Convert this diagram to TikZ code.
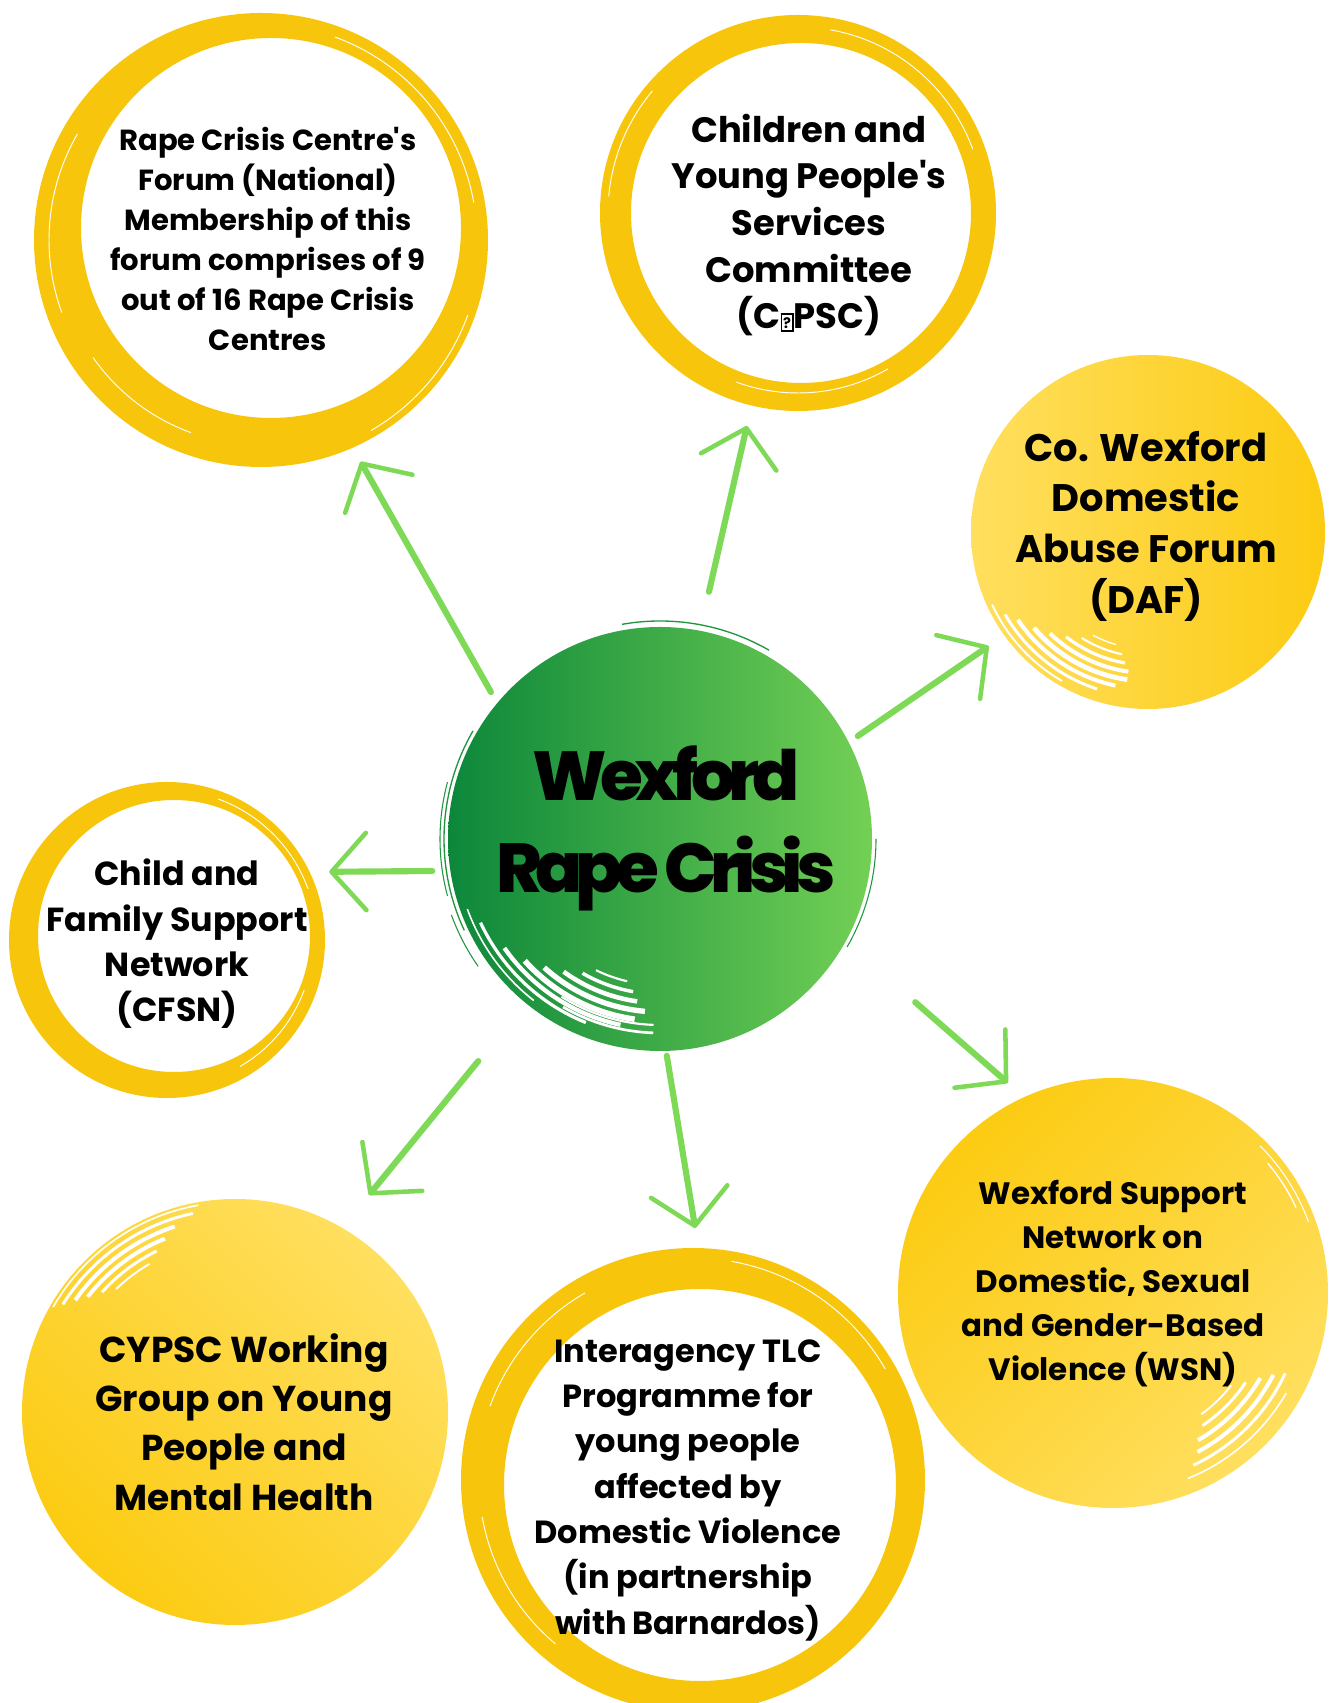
\documentclass[tikz,border=0pt]{standalone}
\usepackage{fontspec}
\setmainfont{Poppins}
\IfFontExistsTF{Poppins ExtraBold}
  {\newfontfamily\hubfont{Poppins ExtraBold}[LetterSpace=-10]}
  {\newfontfamily\hubfont{Poppins}[LetterSpace=-10,UprightFont=* Bold]}
\usetikzlibrary{arrows.meta,calc}

\definecolor{ringyellow}{RGB}{247,198,12}
\definecolor{discdeep}{RGB}{252,203,18}
\definecolor{disclight}{RGB}{255,223,95}
\definecolor{hubdark}{RGB}{12,135,58}
\definecolor{hublight}{RGB}{115,208,85}
\definecolor{arrowgreen}{RGB}{126,217,87}

% a font-less glyph box, as printed in the committee's acronym
\newcommand\nofont{{\setlength\fboxsep{0.8pt}\setlength\fboxrule{1.2pt}%
  \fbox{\fontsize{11}{11}\selectfont\rule{0pt}{9.5pt}?}}}
\newcommand\apos{\textquotesingle}

\tikzset{
  label text/.style={align=center, text=black, inner sep=0pt},
  arr/.style={draw=arrowgreen, line width=4.6pt, line cap=round,
    -{Straight Barb[round,length=26pt,width=58pt,line width=3.4pt]}},
  streak/.style={draw=white},
}

\begin{document}
\begin{tikzpicture}[x=0.75pt,y=0.75pt]
\useasboundingbox (0,0) rectangle (1334,1703);
\fill[white] (0,0) rectangle (1334,1703);
\clip (0,0) rectangle (1334,1703);

% centres of the eight brush circles
\coordinate (hub)  at (660,864);
\coordinate (rcc)  at (261,1463);
\coordinate (cyp)  at (798,1490);
\coordinate (daf)  at (1148,1171);
\coordinate (cfsn) at (167,763);
\coordinate (wg)   at (235,291);
\coordinate (tlc)  at (693,223);
\coordinate (wsn)  at (1113,410);

% ---- open rings (outer circle minus shifted inner circle) ----
\fill[ringyellow, even odd rule] (rcc) circle[radius=227] ($(rcc)+(10,12)$) circle[radius=190];
\fill[ringyellow, even odd rule] (cyp) circle[radius=198] ($(cyp)+(3,0)$) circle[radius=170];
\fill[ringyellow, even odd rule] (cfsn) circle[radius=158] ($(cfsn)+(7,4)$) circle[radius=136];
\fill[ringyellow, even odd rule] (tlc) circle[radius=232] ($(tlc)+(7,-5)$) circle[radius=196];

% fine dry-brush hairlines inside the rings
\foreach \c/\r/\a/\b in {rcc/216/10/70, rcc/220/300/340, rcc/212/150/200, rcc/205/215/250,
    cyp/186/20/80, cyp/180/250/300, cyp/190/140/175,
    cfsn/150/20/70, cfsn/146/300/340,
    tlc/222/30/80, tlc/216/120/160, tlc/214/190/230}
  \draw[white, line width=0.7pt] ($(\c)+(\a:\r)$) arc[start angle=\a, end angle=\b, radius=\r];

% ---- filled discs ----
\shade[left color=disclight, right color=discdeep] (daf) circle[radius=177];
\shade[top color=disclight, bottom color=discdeep, shading angle=-45] (wg) circle[radius=213];
\shade[top color=discdeep, bottom color=disclight, shading angle=45] (wsn) circle[radius=215];

% dry-brush streaks on the discs
\foreach \r/\a/\b/\w in {172/205/240/1.4, 165/210/252/2.2, 157/214/258/3,
    149/220/262/3.6, 141/226/262/3, 133/232/260/2.4, 125/238/258/1.6, 117/242/254/1}
  \draw[streak, line width=\w pt] ($(daf)+(\a:\r)$) arc[start angle=\a, end angle=\b, radius=\r];
\foreach \r/\a/\b/\w in {210/100/150/1.2, 203/102/148/2.2, 195/108/145/3,
    187/112/142/3, 179/116/138/2.2, 171/120/134/1.4}
  \draw[streak, line width=\w pt] ($(wg)+(\a:\r)$) arc[start angle=\a, end angle=\b, radius=\r];
\foreach \r/\a/\b/\w in {200/292/330/1.2, 190/295/335/2.2, 180/298/333/3,
    170/300/330/3, 160/304/326/2.2, 150/306/322/1.4, 208/20/45/0.8, 202/25/40/1}
  \draw[streak, line width=\w pt] ($(wsn)+(\a:\r)$) arc[start angle=\a, end angle=\b, radius=\r];

% ---- central hub ----
\shade[left color=hubdark, right color=hublight] (hub) circle[radius=212];
\foreach \r/\a/\b/\w in {216/150/205/1, 220/165/195/0.8, 218/60/100/1,
    216/330/360/0.8, 222/200/215/0.8}
  \draw[hubdark!80!hublight, line width=\w pt] ($(hub)+(\a:\r)$) arc[start angle=\a, end angle=\b, radius=\r];
\foreach \r/\a/\b/\w in {205/200/232/1.2, 198/205/248/2.4, 190/215/258/3.2,
    182/222/262/4.2, 173/228/265/4, 164/234/262/3.4, 155/240/260/2.6,
    146/244/257/1.6, 194/240/268/2, 186/238/268/1.6}
  \draw[streak, line width=\w pt] ($(hub)+(\a:\r)$) arc[start angle=\a, end angle=\b, radius=\r];

% ---- labels ----
\node[label text, font={\fontsize{21.8}{30}\selectfont\bfseries}] (rcct) at (268,1464)
  {Rape Crisis Centre\apos s\\Forum (National)\\Membership of this\\forum comprises of 9\\out of 16 Rape Crisis\\Centres};
\node[label text, font={\fontsize{26.5}{35}\selectfont\bfseries}] (cypt) at (809,1478)
  {Children and\\Young People\apos s\\Services\\Committee\\(C\nofont PSC)};
\node[label text, font={\fontsize{28.8}{38}\selectfont\bfseries}] (daft) at (1146,1177)
  {Co. Wexford\\Domestic\\Abuse Forum\\(DAF)};
\node[label text, font={\fontsize{25}{34}\selectfont\bfseries}] (cfsnt) at (177,759)
  {Child and\\Family Support\\Network\\(CFSN)};
\node[label text, font={\fontsize{52}{69}\selectfont\hubfont}] (hubt) at (666,875)
  {Wexford\\Rape Crisis};
\node[label text, font={\fontsize{27}{37}\selectfont\bfseries}] (wgt) at (244,281)
  {CYPSC Working\\Group on Young\\People and\\Mental Health};
\node[label text, font={\fontsize{24}{34}\selectfont\bfseries}] (tlct) at (688,213)
  {Interagency TLC\\Programme for\\young people\\affected by\\Domestic Violence\\(in partnership\\with\,Barnardos)};
\node[label text, font={\fontsize{23.2}{33}\selectfont\bfseries}] (wsnt) at (1113,419)
  {Wexford Support\\Network on\\Domestic, Sexual\\and Gender-Based\\Violence (WSN)};

% ---- connectors from the hub ----
\draw[arr] ($(hub)+(139:224)$)   -- ($(rcc)+(294.2:243)$);
\draw[arr] ($(hub)+(78.8:252)$)  -- ($(cyp)+(256.5:219)$);
\draw[arr] ($(hub)+(27.5:223)$)  -- ($(daf)+(215.6:196)$);
\draw[arr] ($(hub)+(188:230)$)   -- ($(cfsn)+(22.8:176)$);
\draw[arr] ($(hub)+(230.7:287)$) -- ($(wg)+(58.3:255)$);
\draw[arr] ($(hub)+(271.8:217)$) -- ($(tlc)+(89.5:252)$);
\draw[arr] ($(hub)+(327.4:303)$) -- ($(wsn)+(116.6:235)$);
\end{tikzpicture}
\end{document}
